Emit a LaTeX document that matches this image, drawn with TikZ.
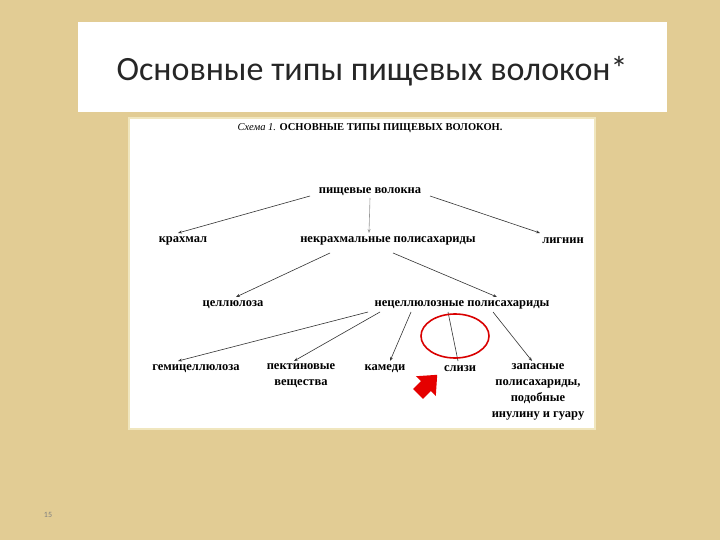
\documentclass[tikz,border=0pt]{standalone}
\usepackage{fontspec}
\setmainfont{Liberation Serif}
\newfontfamily\titlefont{Carlito}
\usetikzlibrary{arrows.meta}
\begin{document}
\begin{tikzpicture}[x=1pt,y=-1pt,
  lbl/.style={font=\bfseries\fontsize{12.5}{16}\selectfont, inner sep=1pt, align=center},
  arr/.style={draw=black!80, line width=0.6pt, -{Stealth[length=4pt,width=3pt]}}]
\fill[fill={rgb,255:red,226;green,204;blue,148}] (0,0) rectangle (720,540);
\useasboundingbox (0,0) rectangle (720,540);
\node[fill=white, minimum width=589, minimum height=90, anchor=north west, inner sep=0] (tb) at (78,22) {};
\node[font=\titlefont\fontsize{34}{40}\selectfont, text=black!85] (title) at (372,71) {Основные типы пищевых волокон*};
\node[fill=white, draw={rgb,255:red,240;green,230;blue,190}, line width=2pt, minimum width=466, minimum height=311, anchor=north west, inner sep=0] (img) at (128,117) {};
\node[font=\fontsize{10.5}{12}\selectfont] (head) at (370,128) {\textit{Схема 1.} \textbf{ОСНОВНЫЕ ТИПЫ ПИЩЕВЫХ ВОЛОКОН.}};
\node[lbl] (pv) at (370,192) {пищевые волокна};
\node[lbl] (kr) at (183,241) {крахмал};
\node[lbl] (np) at (388,241) {некрахмальные полисахариды};
\node[lbl] (lg) at (563,241) {лигнин};
\node[lbl] (cl) at (233,305) {целлюлоза};
\node[lbl] (ncp) at (462,305) {нецеллюлозные полисахариды};
\node[lbl] (gc) at (196,369) {гемицеллюлоза};
\node[lbl, anchor=north] (pk) at (301,362) {пектиновые\\вещества};
\node[lbl] (km) at (385,369) {камеди};
\node[lbl] (sl) at (460,369) {слизи};
\node[lbl, anchor=north, font=\bfseries\fontsize{12.5}{16}\selectfont] (zp) at (538,362) {запасные\\полисахариды,\\подобные\\инулину и гуару};
\coordinate (a1) at (310,196); \coordinate (b1) at (178,233);
\coordinate (a2) at (430,196); \coordinate (b2) at (540,233);
\coordinate (a3) at (330,253); \coordinate (b3) at (236,297);
\coordinate (a4) at (393,253); \coordinate (b4) at (497,297);
\coordinate (a5) at (368,312); \coordinate (b5) at (178,361);
\coordinate (a6) at (380,312); \coordinate (b6) at (294,361);
\coordinate (a7) at (411,312); \coordinate (b7) at (390,361);
\coordinate (a8) at (448,312); \coordinate (b8) at (458,361);
\coordinate (a9) at (493,312); \coordinate (b9) at (532,361);
\coordinate (a0) at (370,198); \coordinate (b0) at (369,233);
\draw[arr] (a1) -- (b1);
\draw[arr] (a2) -- (b2);
\draw[arr, draw=black!40] (a0) -- (b0);
\draw[arr] (a3) -- (b3);
\draw[arr] (a4) -- (b4);
\draw[arr] (a5) -- (b5);
\draw[arr] (a6) -- (b6);
\draw[arr] (a7) -- (b7);
\draw[draw=black!80, line width=0.6pt] (a8) -- (b8);
\draw[arr] (a9) -- (b9);
\draw[red!85!black, line width=1.6pt] (455,336) ellipse (34 and 22);
\fill[red!90!black, rotate around={-45:(428,384)}] (421,398) -- (421,387) -- (414,387) -- (428,371) -- (442,387) -- (435,387) -- (435,398) -- cycle;
\node[font=\titlefont\fontsize{8}{9}\selectfont, text=black!50] (pg) at (48,515) {15};
\end{tikzpicture}
\end{document}
